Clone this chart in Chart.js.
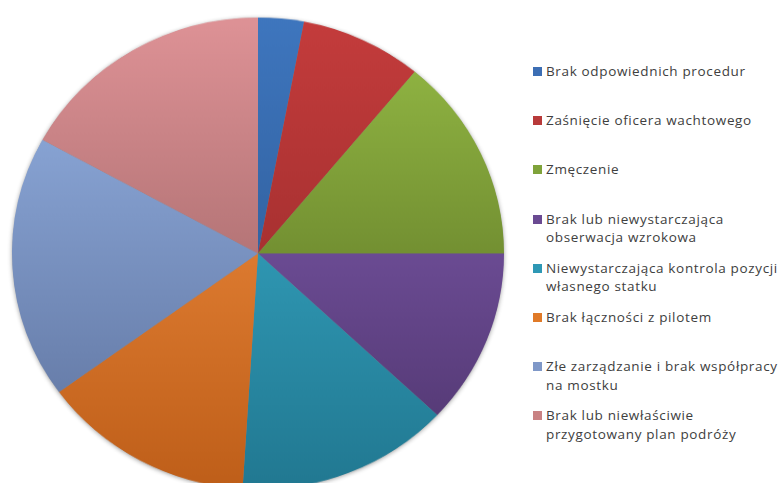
<!DOCTYPE html>
<html>
<head>
<meta charset="utf-8">
<script src="https://cdn.jsdelivr.net/npm/chart.js@4/dist/chart.umd.min.js"></script>
<style>
  html, body { margin: 0; padding: 0; background: #fff; width: 779px; height: 483px; overflow: hidden; }
  #wrap { position: absolute; left: 0; top: 5.5px; width: 516px; height: 516px; transform: scaleY(0.959); transform-origin: 0 0; }
  #legend { position: absolute; left: 533px; top: 62px; font-family: "Open Sans", sans-serif; font-size: 13.5px; letter-spacing: 0.65px; color: #404040; }
  .item { position: relative; height: 49.2px; }
  .sw { position: absolute; left: 0; top: 5px; width: 9px; height: 9px; }
  .tx { position: absolute; left: 13px; top: 0; line-height: 18.5px; white-space: nowrap; }
</style>
</head>
<body>
<div id="wrap"><canvas id="c"></canvas></div>
<div id="legend"></div>
<script>
const categories = [
  ["Brak odpowiednich procedur"],
  ["Zaśnięcie oficera wachtowego"],
  ["Zmęczenie"],
  ["Brak lub niewystarczająca", "obserwacja wzrokowa"],
  ["Niewystarczająca kontrola pozycji", "własnego statku"],
  ["Brak łączności z pilotem"],
  ["Złe zarządzanie i brak współpracy", "na mostku"],
  ["Brak lub niewłaściwie", "przygotowany plan podróży"]
];
const values = [3, 8, 14, 12, 14, 14, 18, 17];
const topColors = ["rgb(62,118,190)", "rgb(196,60,60)", "rgb(150,188,70)", "rgb(135,98,185)", "rgb(60,180,210)", "rgb(250,150,70)", "rgb(150,180,230)", "rgb(222,146,150)"];
const bottomColors = ["rgb(40,80,135)", "rgb(140,38,38)", "rgb(80,100,30)", "rgb(78,52,108)", "rgb(33,120,145)", "rgb(190,94,25)", "rgb(92,112,155)", "rgb(140,88,88)"];
const legendColors = ["#3C6EB4", "#B83A3A", "#7FA33A", "#6A4A92", "#2E98B5", "#E07A28", "#7F98C8", "#C98283"];

const shadowPlugin = {
  id: 'pieShadow',
  beforeDatasetsDraw(chart) {
    const arc = chart.getDatasetMeta(0).data[0];
    if (!arc) return;
    const ctx = chart.ctx;
    ctx.save();
    ctx.shadowColor = 'rgba(0,0,0,0.45)';
    ctx.shadowBlur = 5;
    ctx.shadowOffsetX = 0;
    ctx.shadowOffsetY = 1;
    ctx.fillStyle = '#888';
    ctx.beginPath();
    ctx.arc(arc.x, arc.y, arc.outerRadius - 0.5, 0, Math.PI * 2);
    ctx.fill();
    ctx.restore();
  }
};

function grad(context, i) {
  const chart = context.chart;
  const area = chart.chartArea;
  if (!area) return topColors[i];
  const g = chart.ctx.createLinearGradient(0, area.top, 0, area.bottom);
  g.addColorStop(0, topColors[i]);
  g.addColorStop(1, bottomColors[i]);
  return g;
}

new Chart(document.getElementById('c'), {
  type: 'pie',
  data: {
    labels: categories.map(c => c.join(' ')),
    datasets: [{
      data: values,
      backgroundColor: (ctx) => grad(ctx, ctx.dataIndex),
      borderWidth: 0
    }]
  },
  options: {
    responsive: true,
    maintainAspectRatio: false,
    animation: false,
    rotation: 0,
    layout: { padding: 12 },
    plugins: { legend: { display: false }, tooltip: { enabled: false } }
  },
  plugins: [shadowPlugin]
});

const leg = document.getElementById('legend');
categories.forEach((lines, i) => {
  const it = document.createElement('div');
  it.className = 'item';
  const sw = document.createElement('div');
  sw.className = 'sw';
  sw.style.background = legendColors[i];
  const tx = document.createElement('div');
  tx.className = 'tx';
  tx.innerHTML = lines.join('<br>');
  it.appendChild(sw);
  it.appendChild(tx);
  leg.appendChild(it);
});
</script>
</body>
</html>
